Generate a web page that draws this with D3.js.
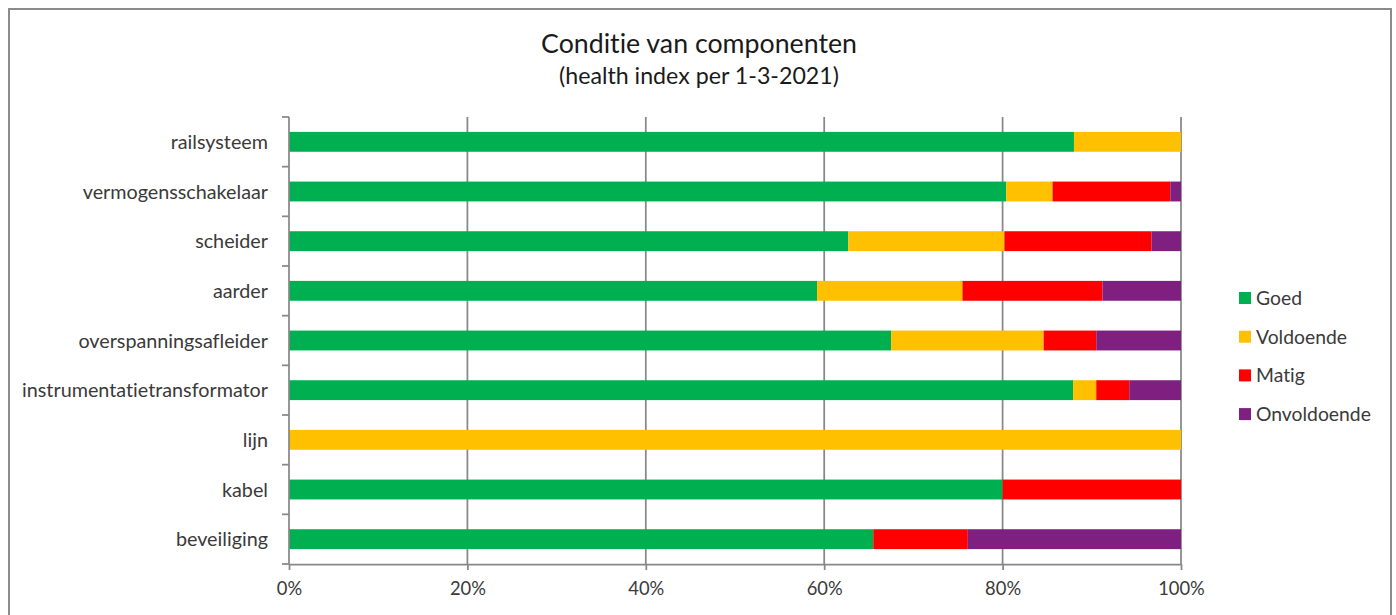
<!DOCTYPE html>
<html>
<head>
<meta charset="utf-8">
<script src="https://cdn.jsdelivr.net/npm/d3@7"></script>
<style>
  html, body { margin: 0; padding: 0; background: #fff; }
  svg { display: block; }
  text { font-family: Lato, "Open Sans", sans-serif; font-variant-ligatures: none; font-feature-settings: "liga" 0, "clig" 0; }
</style>
</head>
<body>
<svg id="chart" width="1396" height="615"></svg>
<script>
// Components, top to bottom
const categories = [
  "railsysteem",
  "vermogensschakelaar",
  "scheider",
  "aarder",
  "overspanningsafleider",
  "instrumentatietransformator",
  "lijn",
  "kabel",
  "beveiliging"
];

// Share of each condition class per component (%)
const goed        = [88.0, 80.4, 62.7, 59.2, 67.5, 87.9,   0, 80.0, 65.5];
const voldoende   = [12.0,  5.2, 17.5, 16.3, 17.1,  2.6, 100,    0,    0];
const matig       = [   0, 13.2, 16.5, 15.7,  5.9,  3.7,   0, 20.0, 10.6];
const onvoldoende = [   0,  1.2,  3.3,  8.8,  9.5,  5.8,   0,    0, 23.9];

const seriesNames  = ["Goed", "Voldoende", "Matig", "Onvoldoende"];
const seriesColors = ["#00B050", "#FFC000", "#FF0000", "#7F1F7F"];

const xTicks = [0, 0.2, 0.4, 0.6, 0.8, 1.0];

const titleText = "Conditie van componenten";
const subtitleText = "(health index per 1-3-2021)";

// ---- build rows for the stack ----
const rows = categories.map((c, i) => ({
  cat: c,
  Goed: goed[i],
  Voldoende: voldoende[i],
  Matig: matig[i],
  Onvoldoende: onvoldoende[i]
}));

const stacked = d3.stack()
  .keys(seriesNames)
  .offset(d3.stackOffsetExpand)(rows);

const svg = d3.select("#chart");
const textColor = "#3a3a3a";
const gridColor = "#888888";

// chart frame
svg.append("rect")
  .attr("x", 9).attr("y", 9)
  .attr("width", 1382).attr("height", 640)
  .attr("fill", "#fff")
  .attr("stroke", "#8c8c8c")
  .attr("stroke-width", 2);

const plot = { left: 289, right: 1181, top: 117, bottom: 564 };

const x = d3.scaleLinear().domain([0, 1]).range([plot.left, plot.right]);
const y = d3.scaleBand()
  .domain(categories)
  .range([plot.top, plot.bottom])
  .paddingInner(0.6)
  .paddingOuter(0.3);

// scale a text's font size so a sample string spans a given width
function fitSize(sample, width, base) {
  const t = svg.append("text").attr("font-size", base).text(sample);
  const w = t.node().getComputedTextLength();
  t.remove();
  return base * width / w;
}

const catSize   = fitSize("instrumentatietransformator", 246, 18);
const tickSize  = fitSize("60%", 36, 18);
const legSize   = fitSize("Onvoldoende", 115, 18);
const titleSize = fitSize(titleText, 316, 24);
const subSize   = fitSize(subtitleText, 280, 20);

// vertical gridlines
svg.append("g")
  .selectAll("line")
  .data(xTicks.slice(1))
  .join("line")
  .attr("x1", d => x(d)).attr("x2", d => x(d))
  .attr("y1", plot.top).attr("y2", plot.bottom)
  .attr("stroke", gridColor)
  .attr("stroke-width", 1.75);

// stacked bars
svg.append("g")
  .selectAll("g")
  .data(stacked)
  .join("g")
  .attr("fill", (d, i) => seriesColors[i])
  .selectAll("rect")
  .data(d => d)
  .join("rect")
  .attr("x", d => x(d[0]))
  .attr("y", d => y(d.data.cat))
  .attr("width", d => Math.max(0, x(d[1]) - x(d[0])))
  .attr("height", y.bandwidth());

// x axis
const xAxis = d3.axisBottom(x)
  .tickValues(xTicks)
  .tickFormat(d3.format(".0%"))
  .tickSize(6)
  .tickSizeOuter(0)
  .tickPadding(12);

const gx = svg.append("g")
  .attr("transform", `translate(0,${plot.bottom})`)
  .call(xAxis);
gx.select(".domain").attr("stroke", gridColor).attr("stroke-width", 1.75);
gx.selectAll(".tick line").attr("stroke", gridColor).attr("stroke-width", 1.75);
gx.selectAll(".tick text")
  .attr("fill", textColor)
  .attr("font-size", tickSize)
  .attr("font-family", "Lato, 'Open Sans', sans-serif");

// y axis: ticks sit between categories, labels centred on bars
const gy = svg.append("g")
  .attr("transform", `translate(${plot.left},0)`);
gy.append("line")
  .attr("x1", 0).attr("x2", 0)
  .attr("y1", plot.top).attr("y2", plot.bottom)
  .attr("stroke", gridColor).attr("stroke-width", 1.75);

const boundaries = d3.range(categories.length + 1)
  .map(i => plot.top + i * y.step());
gy.selectAll("line.tk")
  .data(boundaries)
  .join("line")
  .attr("class", "tk")
  .attr("x1", -7).attr("x2", 0)
  .attr("y1", d => d).attr("y2", d => d)
  .attr("stroke", gridColor).attr("stroke-width", 1.75);

gy.selectAll("text")
  .data(categories)
  .join("text")
  .attr("x", -21)
  .attr("y", d => y(d) + y.bandwidth() / 2)
  .attr("dy", "0.36em")
  .attr("text-anchor", "end")
  .attr("fill", textColor)
  .attr("font-size", catSize)
  .text(d => d);

// title
svg.append("text")
  .attr("x", 699).attr("y", 53)
  .attr("text-anchor", "middle")
  .attr("fill", "#1a1a1a")
  .attr("font-size", titleSize)
  .text(titleText);

svg.append("text")
  .attr("x", 699).attr("y", 84)
  .attr("text-anchor", "middle")
  .attr("fill", "#1a1a1a")
  .attr("font-size", subSize)
  .text(subtitleText);

// legend
const legend = svg.append("g").attr("transform", "translate(1239,298)");
const li = legend.selectAll("g")
  .data(seriesNames)
  .join("g")
  .attr("transform", (d, i) => `translate(0,${i * 38.7})`);
li.append("rect")
  .attr("x", 0).attr("y", -6)
  .attr("width", 12).attr("height", 12)
  .attr("fill", (d, i) => seriesColors[i]);
li.append("text")
  .attr("x", 17).attr("y", 0)
  .attr("dy", "0.36em")
  .attr("fill", textColor)
  .attr("font-size", legSize)
  .text(d => d);
</script>
</body>
</html>
